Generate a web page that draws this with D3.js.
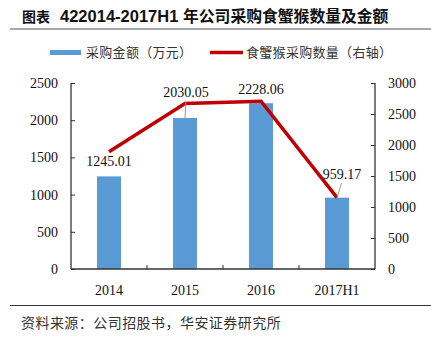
<!DOCTYPE html>
<html>
<head>
<meta charset="utf-8">
<script src="https://cdn.jsdelivr.net/npm/d3@7"></script>
<style>
  html, body { margin: 0; padding: 0; background: #fff; }
  svg { display: block; }
</style>
</head>
<body>
<svg id="chart" width="431" height="341"></svg>
<script>
// Data
const categories = ["2014", "2015", "2016", "2017H1"];
const amountValues = [1245.01, 2030.05, 2228.06, 959.17];   // 采购金额（万元）
const quantityValues = [1890, 2670, 2705, 1150];             // 食蟹猴采购数量（右轴）
const leftTicks = [0, 500, 1000, 1500, 2000, 2500];
const rightTicks = [0, 500, 1000, 1500, 2000, 2500, 3000];
const legendLabels = ["采购金额（万元）", "食蟹猴采购数量（右轴）"];
const titlePrefix = "图表";
const titleMain = "422014-2017H1";
const titleSuffix = "年公司采购食蟹猴数量及金额";
const sourceText = "资料来源：公司招股书，华安证券研究所";

const svg = d3.select("#chart");
const serif = "'Liberation Serif', 'DejaVu Serif', serif";
const cjk = "'Noto Sans CJK SC', sans-serif";

const plot = { left: 71, right: 375, top: 83, bottom: 269 };

const x = d3.scaleBand().domain(categories).range([plot.left, plot.right]).paddingInner(0.684).paddingOuter(0.342);
const yL = d3.scaleLinear().domain([0, 2500]).range([plot.bottom, plot.top]);
const yR = d3.scaleLinear().domain([0, 3000]).range([plot.bottom, plot.top]);

// Title
const title = svg.append("text").attr("y", 22)
  .attr("font-weight", "bold").attr("fill", "#111");
title.append("tspan").attr("x", 22).attr("font-family", cjk).attr("font-size", 14).text(titlePrefix);
title.append("tspan").attr("x", 60).attr("font-family", "'Liberation Sans', Arial, sans-serif").attr("font-size", 16.5).text(titleMain);
title.append("tspan").attr("x", 183).attr("font-family", cjk).attr("font-size", 15.8).text(titleSuffix);

svg.append("line").attr("x1", 10).attr("x2", 431).attr("y1", 29).attr("y2", 29)
  .attr("stroke", "#555").attr("stroke-width", 1.2);

// Legend
svg.append("rect").attr("x", 50).attr("y", 50).attr("width", 31).attr("height", 5).attr("fill", "#5B9BD5");
svg.append("text").attr("x", 86).attr("y", 57).attr("font-family", cjk).attr("font-size", 13)
  .attr("letter-spacing", 0.3).attr("fill", "#333").text(legendLabels[0]);
svg.append("line").attr("x1", 210).attr("x2", 243).attr("y1", 52.5).attr("y2", 52.5)
  .attr("stroke", "#C00000").attr("stroke-width", 3.5);
svg.append("text").attr("x", 246).attr("y", 57).attr("font-family", cjk).attr("font-size", 13)
  .attr("letter-spacing", 0.3).attr("fill", "#333").text(legendLabels[1]);

// Bars
svg.append("g").selectAll("rect").data(categories).join("rect")
  .attr("x", d => x(d))
  .attr("y", (d, i) => yL(amountValues[i]))
  .attr("width", x.bandwidth())
  .attr("height", (d, i) => plot.bottom - yL(amountValues[i]))
  .attr("fill", "#5B9BD5");

// Line (right axis)
const line = d3.line().x((d, i) => x(categories[i]) + x.bandwidth() / 2).y(d => yR(d));
svg.append("path").datum(quantityValues).attr("d", line)
  .attr("fill", "none").attr("stroke", "#C00000").attr("stroke-width", 3.5)
  .attr("stroke-linejoin", "miter");

// Left axis
const axL = svg.append("g").attr("transform", `translate(${plot.left},0)`)
  .call(d3.axisLeft(yL).tickValues(leftTicks).tickSize(-4).tickPadding(13).tickFormat(d3.format("d")));
// Right axis
const axR = svg.append("g").attr("transform", `translate(${plot.right},0)`)
  .call(d3.axisRight(yR).tickValues(rightTicks).tickSize(-4).tickPadding(13).tickFormat(d3.format("d")));
// Bottom axis with ticks between categories
const axB = svg.append("g").attr("transform", `translate(0,${plot.bottom})`)
  .call(d3.axisBottom(x).tickSize(0).tickPadding(16));
const sepTicks = categories.slice(1).map(c => x(c) - x.step() * x.paddingInner() / 2);
axB.selectAll(".sep").data(sepTicks).join("line").attr("class", "sep")
  .attr("x1", d => d).attr("x2", d => d).attr("y1", 0).attr("y2", -4)
  .attr("stroke", "#333");

[axL, axR, axB].forEach(g => {
  g.select(".domain").attr("stroke", "#333").attr("stroke-width", 1.3);
  g.selectAll(".tick line").attr("stroke", "#333");
  g.selectAll("text").attr("font-family", serif).attr("font-size", 14).attr("fill", "#111");
});
axL.select(".domain").attr("d", `M0,${plot.top}V${plot.bottom}`);
axR.select(".domain").attr("d", `M0,${plot.top}V${plot.bottom}`);
axB.select(".domain").attr("d", `M${plot.left},0H${plot.right}`);

// Value labels for the bars, with leader lines where offset
const labelOffsets = [
  { dx: 0, dy: -10, leader: false },
  { dx: 1, dy: -20.5, leader: true },
  { dx: 0, dy: -9.5, leader: false },
  { dx: 5, dy: -18.5, leader: true }
];
const lab = svg.append("g");
categories.forEach((c, i) => {
  const cx = x(c) + x.bandwidth() / 2;
  const top = yL(amountValues[i]);
  const o = labelOffsets[i];
  lab.append("text").attr("x", cx + o.dx).attr("y", top + o.dy)
    .attr("text-anchor", "middle").attr("font-family", serif).attr("font-size", 14)
    .attr("fill", "#111").text(amountValues[i].toFixed(2));
  if (o.leader) {
    lab.append("line").attr("x1", cx + o.dx * 0.9).attr("y1", top + o.dy + 4)
      .attr("x2", cx).attr("y2", top).attr("stroke", "#999").attr("stroke-width", 1);
  }
});

// Source line
svg.append("line").attr("x1", 10).attr("x2", 431).attr("y1", 305.5).attr("y2", 305.5)
  .attr("stroke", "#333").attr("stroke-width", 1.2);
svg.append("text").attr("x", 21).attr("y", 328).attr("font-family", cjk).attr("font-size", 14)
  .attr("letter-spacing", 0.45).attr("fill", "#333").text(sourceText);
</script>
</body>
</html>
